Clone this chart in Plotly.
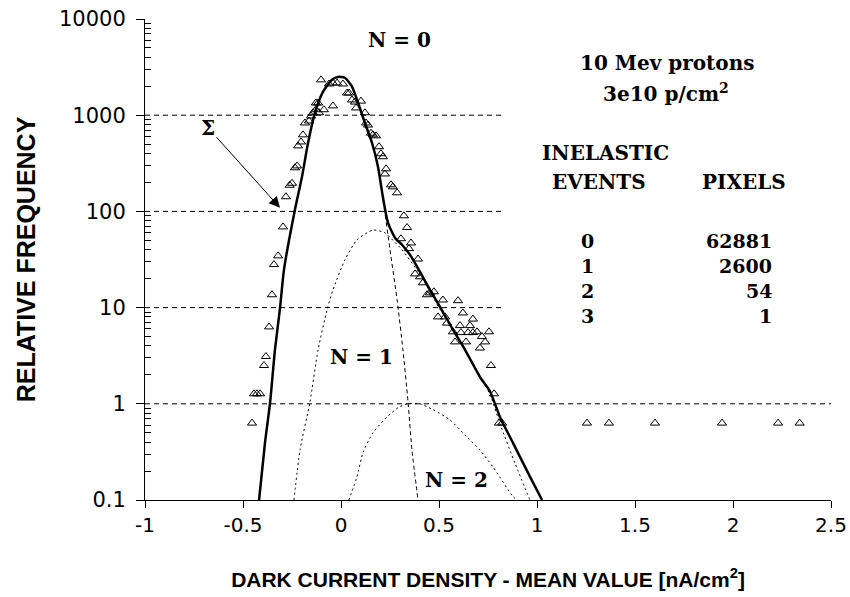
import plotly.graph_objects as go

# ---------------- data ----------------
tri_x = [-0.454, -0.444, -0.429, -0.413, -0.393, -0.383, -0.367, -0.352, -0.342, -0.321,
         -0.296, -0.281, -0.262, -0.250, -0.235, -0.224, -0.219, -0.204, -0.194, -0.184,
         -0.163, -0.153, -0.143, -0.128, -0.112, -0.128, -0.117, -0.087, -0.041, -0.102,
         -0.061, -0.041, -0.020, 0.010, 0.031, 0.041, 0.056, 0.071, 0.102, 0.077,
         0.122, 0.128, 0.138, 0.153, 0.163, 0.179, 0.194, 0.204, 0.214, 0.224,
         0.230, 0.255, 0.265, 0.286, 0.321, 0.337, 0.306, 0.357, 0.347, 0.393,
         0.378, 0.403, 0.418, 0.439, 0.454, 0.474, 0.520, 0.597, 0.622, 0.495,
         0.531, 0.541, 0.607, 0.673, 0.658, 0.648, 0.673, 0.694, 0.755, 0.571,
         0.612, 0.582, 0.638, 0.719, 0.735, 0.709, 0.765, 0.781, 0.806, 0.822,
         1.255, 1.367, 1.602, 1.944, 2.230, 2.340]
tri_y = [0.63, 1.27, 1.27, 1.27, 2.5, 3.1, 6.3, 13.6, 28, 34.5,
         69, 142, 187, 196, 284, 297, 480, 527, 625, 830,
         870, 980, 1060, 1140, 1060, 1340, 1340, 1140, 1250, 2330,
         2110, 2160, 2160, 2110, 1700, 1700, 1440, 1370, 1400, 1190,
         1060, 830, 790, 650, 625, 610, 470, 398, 370, 245,
         277, 189, 180, 156, 90, 68, 52, 47, 41, 32,
         22.4, 20.9, 18.1, 13.6, 14.2, 14.6, 12.0, 11.8, 8.8, 8.0,
         8.0, 6.9, 6.5, 7.6, 6.5, 5.5, 5.5, 5.6, 5.6, 5.6,
         5.5, 4.4, 4.4, 5.0, 4.4, 3.8, 2.5, 1.27, 0.63, 0.63,
         0.63, 0.63, 0.63, 0.63, 0.63, 0.63]

sum_x = [-0.418, -0.388, -0.362, -0.337, -0.311, -0.291, -0.235, -0.199, -0.168, -0.133,
         -0.092, -0.046, -0.015, 0.020, 0.056, 0.087, 0.122, 0.158, 0.189, 0.214,
         0.240, 0.276, 0.311, 0.352, 0.403, 0.454, 0.505, 0.571, 0.633, 0.709,
         0.760, 0.811, 0.878, 0.964, 1.026]
sum_y = [0.1, 0.39, 1.02, 3.64, 9.9, 24.7, 104, 229, 517, 1060,
         1750, 2340, 2500, 2450, 1980, 1350, 830, 517, 290, 140,
         76, 53, 45, 35.4, 23.5, 15.3, 10.2, 5.9, 3.64, 1.9,
         1.35, 0.73, 0.39, 0.175, 0.1]

n0_x = [-0.418, -0.388, -0.362, -0.337, -0.311, -0.291, -0.235, -0.199, -0.168, -0.133,
        -0.092, -0.046, -0.015, 0.020, 0.056, 0.087, 0.122, 0.158, 0.189, 0.214,
        0.250, 0.286, 0.316, 0.342, 0.362, 0.393]
n0_y = [0.1, 0.39, 1.02, 3.64, 9.9, 24.7, 104, 229, 517, 1060,
        1750, 2340, 2500, 2450, 1980, 1350, 830, 517, 290, 135,
        40, 12.1, 3.64, 1.05, 0.33, 0.1]

n1_x = [-0.240, -0.209, -0.158, -0.117, -0.071, -0.041, 0.020, 0.082, 0.163, 0.224,
        0.265, 0.311, 0.403, 0.505, 0.643, 0.760, 0.811, 0.888, 0.964]
n1_y = [0.1, 0.333, 1.05, 3.64, 9.5, 15.3, 31.4, 50.8, 64, 60,
        50, 40, 22, 9.6, 3.4, 1.25, 0.62, 0.24, 0.1]

n2_x = [0.040, 0.082, 0.112, 0.163, 0.235, 0.291, 0.337, 0.403, 0.469, 0.556,
        0.643, 0.709, 0.776, 0.878, 0.898]
n2_y = [0.1, 0.175, 0.31, 0.5, 0.73, 0.91, 1.0, 1.0, 0.87, 0.68,
        0.45, 0.33, 0.22, 0.108, 0.1]

grid_values = [1000, 100, 10]
grid_full = [1]

events = ["0", "1", "2", "3"]
pixels = ["62881", "2600", "54", "1"]

x_ticks = [-1, -0.5, 0, 0.5, 1, 1.5, 2, 2.5]
x_tick_text = ["-1", "-0.5", "0", "0.5", "1", "1.5", "2", "2.5"]
y_ticks = [0.1, 1, 10, 100, 1000, 10000]
y_tick_text = ["0.1", "1", "10", "100", "1000", "10000"]
y_minor_decades = [0.1, 1, 10, 100, 1000]
y_minor_digits = [2, 3, 4, 5, 6, 7, 8, 9]
y_minor_vals = [round(d * g, 6) for d in y_minor_decades for g in y_minor_digits]

# ---------------- figure ----------------
W, H = 850, 597
L, R, T, B = 145, 19, 19, 97
pw, ph = W - L - R, H - T - B


def px(xp):
    return (xp - L) / pw


def py(yp):
    return (H - B - yp) / ph


fig = go.Figure()

fig.add_trace(go.Scatter(x=n2_x, y=n2_y, mode="lines",
                         line=dict(color="black", width=1, dash="2px,3px", shape="spline", smoothing=0.6)))
fig.add_trace(go.Scatter(x=n1_x, y=n1_y, mode="lines",
                         line=dict(color="black", width=1, dash="2px,3px", shape="spline", smoothing=0.6)))
fig.add_trace(go.Scatter(x=n0_x, y=n0_y, mode="lines",
                         line=dict(color="black", width=1, dash="4px,3px", shape="spline", smoothing=0.6)))
fig.add_trace(go.Scatter(x=sum_x, y=sum_y, mode="lines",
                         line=dict(color="black", width=2.5, shape="spline", smoothing=0.6)))
fig.add_trace(go.Scatter(x=tri_x, y=tri_y, mode="markers",
                         marker=dict(symbol="triangle-up-open", size=8, color="black",
                                     line=dict(width=1, color="black"))))

shapes = []
for gv in grid_values:
    shapes.append(dict(type="line", xref="x", yref="y", x0=-1, x1=0.827, y0=gv, y1=gv,
                       line=dict(color="black", width=1, dash="5px,4px"), layer="below"))
for gv in grid_full:
    shapes.append(dict(type="line", xref="paper", yref="y", x0=0, x1=1, y0=gv, y1=gv,
                       line=dict(color="black", width=1, dash="5px,4px"), layer="below"))

serif = dict(family="DejaVu Serif", size=20, color="black")
serif_s = dict(family="DejaVu Serif", size=19, color="black")
ann = []


def T_(text, xp, yp, xanchor="center", font=serif):
    ann.append(dict(text=text, x=px(xp), y=py(yp), xref="paper", yref="paper",
                    xanchor=xanchor, yanchor="middle", showarrow=False, font=font))


T_("<b>N = 0</b>", 399, 40)
T_("<b>N = 1</b>", 361, 357)
T_("<b>N = 2</b>", 456, 480)
T_("<b>10 Mev protons</b>", 667, 63)
T_("<b>3e10 p/cm<sup>2</sup></b>", 666, 93)
T_("<b>INELASTIC</b>", 605, 153)
T_("<b>EVENTS</b>", 599, 182)
T_("<b>PIXELS</b>", 744, 182)
row_y = [241, 266, 291, 316]
for ev, pxl, ry in zip(events, pixels, row_y):
    T_("<b>%s</b>" % ev, 587, ry, font=serif_s)
    T_("<b>%s</b>" % pxl, 774, ry, xanchor="right", font=serif_s)

# Σ label with arrow pointing to the Σ curve
ann.append(dict(x=-0.311, y=2.037, xref="x", yref="y", text="<b>Σ</b>", showarrow=True,
                ax=-72, ay=-80, axref="pixel", ayref="pixel", font=serif,
                arrowhead=2, arrowsize=2.2, arrowwidth=1, arrowcolor="black", standoff=0))

fig.update_layout(
    width=W, height=H,
    margin=dict(l=L, r=R, t=T, b=B, autoexpand=False),
    paper_bgcolor="white", plot_bgcolor="white",
    showlegend=False,
    shapes=shapes, annotations=ann,
    xaxis=dict(range=[-1, 2.5], tickvals=x_ticks, ticktext=x_tick_text,
               showgrid=False, zeroline=False, showline=True, linecolor="black", linewidth=1,
               ticks="outside", ticklen=7, tickcolor="black",
               tickfont=dict(family="DejaVu Sans", size=20, color="black"),
               title=dict(text="<b>DARK CURRENT DENSITY - MEAN VALUE [nA/cm<sup>2</sup>]</b>",
                          font=dict(family="Liberation Sans", size=21, color="black"), standoff=36),
               automargin=False),
    yaxis=dict(type="log", range=[-1, 4], tickvals=y_ticks, ticktext=y_tick_text,
               showgrid=False, zeroline=False, showline=True, linecolor="black", linewidth=1,
               ticks="outside", ticklen=8, tickcolor="black", ticklabelstandoff=6,
               tickfont=dict(family="DejaVu Sans", size=21, color="black"),
               minor=dict(tickmode="array", tickvals=y_minor_vals, ticks="inside", ticklen=6,
                          tickcolor="black", tickwidth=1, showgrid=False),
               title=dict(text="<b>RELATIVE FREQUENCY</b>",
                          font=dict(family="Liberation Sans", size=25, color="black"), standoff=16),
               automargin=False),
)

fig.write_html("out.html")
